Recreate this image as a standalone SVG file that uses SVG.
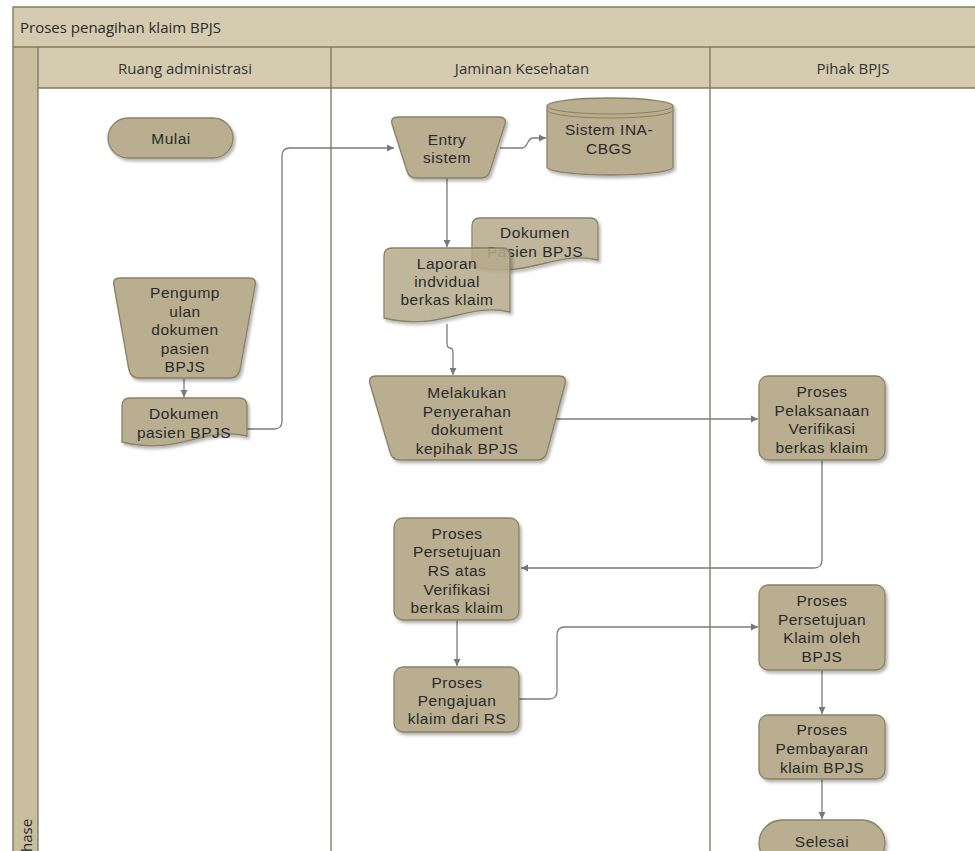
<svg xmlns="http://www.w3.org/2000/svg" width="975" height="851" viewBox="0 0 975 851">
<defs>
<style>
.band{fill:#d4cbb0}
.phase{fill:#c9bf9f}
.frame{fill:none;stroke:#857b5d;stroke-width:1.4}
.div{fill:none;stroke:#7a7466;stroke-width:1.3}
.node{fill:#b9ae90;stroke:#8a8064;stroke-width:1.3;filter:url(#sh)}
.doc{fill:#b9ae90;fill-opacity:0.82;stroke:#8a8064;stroke-width:1.3;filter:url(#sh)}
.ln{fill:none;stroke:#8a8064;stroke-width:1}
.t{font-family:"Liberation Sans",Arial,sans-serif;font-size:15.5px;letter-spacing:0.5px;fill:#2a2a2a;text-anchor:middle;dominant-baseline:central}
.h{font-family:"Open Sans","Noto Sans","DejaVu Sans",sans-serif;font-size:15px;fill:#333;text-anchor:middle;dominant-baseline:central}
.c{fill:none;stroke:#7b7b7b;stroke-width:1.3}
.ca{fill:none;stroke:#7b7b7b;stroke-width:1.3;marker-end:url(#ar)}
</style>
<marker id="ar" markerWidth="8" markerHeight="8" refX="7" refY="4" orient="auto" markerUnits="userSpaceOnUse"><path d="M0,0.5 L7,4 L0,7.5 Z" fill="#777"/></marker>
<filter id="sh" x="-10%" y="-10%" width="130%" height="130%"><feDropShadow dx="2" dy="2.5" stdDeviation="1.5" flood-color="#000" flood-opacity="0.3"/></filter>
</defs>

<rect x="0" y="0" width="975" height="851" fill="#ffffff"/>

<g id="pool">
<rect class="band" x="13" y="7" width="975" height="40"/>
<rect class="band" x="38" y="47" width="950" height="41"/>
<rect class="phase" x="13" y="47" width="25" height="810"/>
<path class="frame" d="M13,860 V7 H980 M13,47 H980 M38,88 H980"/>
<path class="div" d="M38,47 V860 M331,47 V860 M710,47 V860"/>
<text x="20" y="27" style="font-family:'Open Sans','Noto Sans',sans-serif;font-size:15px;fill:#2a2a2a;dominant-baseline:central">Proses penagihan klaim BPJS</text>
<text class="h" x="185" y="68">Ruang administrasi</text>
<text class="h" x="522" y="68">Jaminan Kesehatan</text>
<text class="h" x="853" y="68">Pihak BPJS</text>
<text transform="translate(32,861) rotate(-90)" style="font-family:'Open Sans','Noto Sans',sans-serif;font-size:15px;fill:#2a2a2a">Phase</text>
</g>

<g id="connectors">
<path class="ca" d="M184,378 V397"/>
<path class="ca" d="M247,429 H274 Q282,429 282,421 V156 Q282,148 290,148 H394"/>
<path class="ca" d="M500,148 H522 C528,148 527,138 533,138 H546"/>
<path class="ca" d="M447,178 V247"/>
<path class="ca" d="M447,324 V343 Q447,348 450,348 Q453,348 453,353 V375"/>
<path class="ca" d="M556,419 H758"/>
<path class="ca" d="M822,460 V560 Q822,568 814,568 H521"/>
<path class="ca" d="M457,620 V666"/>
<path class="ca" d="M519,699 H549 Q557,699 557,691 V635 Q557,627 565,627 H758"/>
<path class="ca" d="M822,670 V714"/>
<path class="ca" d="M822,779 V819"/>
</g>

<g id="mulai">
<rect class="node" x="108" y="118" width="125" height="40" rx="20"/>
<text class="t" x="171" y="138">Mulai</text>
</g>

<g id="pengumpulan">
<path class="node" d="M120,278 H249 Q257,278 255,286 L240,370 Q238,378 230,378 H139 Q131,378 129,370 L114,286 Q112,278 120,278 Z"/>
<text class="t" x="185" y="292">Pengump</text>
<text class="t" x="185" y="311">ulan</text>
<text class="t" x="185" y="329">dokumen</text>
<text class="t" x="185" y="348">pasien</text>
<text class="t" x="185" y="366">BPJS</text>
</g>

<g id="dokumen-pasien">
<path class="node" d="M130,398 H239 Q247,398 247,406 V436 C203,426 178,456 122,442 V406 Q122,398 130,398 Z"/>
<text class="t" x="184" y="413">Dokumen</text>
<text class="t" x="184" y="432">pasien BPJS</text>
</g>

<g id="entry-sistem">
<path class="node" d="M398,117 H499 Q507,117 505,124 L490,171 Q488,178 481,178 H416 Q409,178 407,171 L392,124 Q390,117 398,117 Z"/>
<text class="t" x="447" y="139">Entry</text>
<text class="t" x="447" y="157">sistem</text>
</g>

<g id="sistem-ina-cbgs">
<path class="node" d="M547,106 A63,8 0 0 1 673,106 V167 A63,8 0 0 1 547,167 Z"/>
<path class="ln" d="M547,106 A63,8 0 0 0 673,106 M547,110 A63,8 0 0 0 673,110"/>
<text class="t" x="609" y="129">Sistem INA-</text>
<text class="t" x="609" y="148">CBGS</text>
</g>

<g id="dokumen-pasien-bpjs">
<path class="doc" d="M480,218 H590 Q598,218 598,226 V260 C554,250 529,280 472,266 V226 Q472,218 480,218 Z"/>
<text class="t" x="535" y="232">Dokumen</text>
<text class="t" x="535" y="251">Pasien BPJS</text>
</g>

<g id="laporan">
<path class="doc" d="M392,248 H502 Q510,248 510,256 V312 C466,302 441,332 384,318 V256 Q384,248 392,248 Z"/>
<text class="t" x="447" y="263">Laporan</text>
<text class="t" x="447" y="281">indvidual</text>
<text class="t" x="447" y="299">berkas klaim</text>
</g>

<g id="melakukan">
<path class="node" d="M376,376 H559 Q567,376 565,384 L547,452 Q545,460 537,460 H400 Q392,460 390,452 L370,384 Q368,376 376,376 Z"/>
<text class="t" x="467" y="392">Melakukan</text>
<text class="t" x="467" y="411">Penyerahan</text>
<text class="t" x="467" y="429">dokument</text>
<text class="t" x="467" y="448">kepihak BPJS</text>
</g>

<g id="pelaksanaan">
<rect class="node" x="759" y="376" width="126" height="84" rx="9"/>
<text class="t" x="822" y="391">Proses</text>
<text class="t" x="822" y="410">Pelaksanaan</text>
<text class="t" x="822" y="428">Verifikasi</text>
<text class="t" x="822" y="447">berkas klaim</text>
</g>

<g id="persetujuan-rs">
<rect class="node" x="394" y="518" width="125" height="102" rx="9"/>
<text class="t" x="457" y="533">Proses</text>
<text class="t" x="457" y="551">Persetujuan</text>
<text class="t" x="457" y="570">RS atas</text>
<text class="t" x="457" y="589">Verifikasi</text>
<text class="t" x="457" y="607">berkas klaim</text>
</g>

<g id="pengajuan">
<rect class="node" x="394" y="667" width="125" height="65" rx="9"/>
<text class="t" x="457" y="682">Proses</text>
<text class="t" x="457" y="700">Pengajuan</text>
<text class="t" x="457" y="718">klaim dari RS</text>
</g>

<g id="persetujuan-klaim">
<rect class="node" x="759" y="585" width="126" height="85" rx="9"/>
<text class="t" x="822" y="600">Proses</text>
<text class="t" x="822" y="619">Persetujuan</text>
<text class="t" x="822" y="637">Klaim oleh</text>
<text class="t" x="822" y="656">BPJS</text>
</g>

<g id="pembayaran">
<rect class="node" x="759" y="715" width="126" height="64" rx="9"/>
<text class="t" x="822" y="729">Proses</text>
<text class="t" x="822" y="748">Pembayaran</text>
<text class="t" x="822" y="767">klaim BPJS</text>
</g>

<g id="selesai">
<rect class="node" x="759" y="820" width="126" height="46" rx="23"/>
<text class="t" x="822" y="841">Selesai</text>
</g>
</svg>
